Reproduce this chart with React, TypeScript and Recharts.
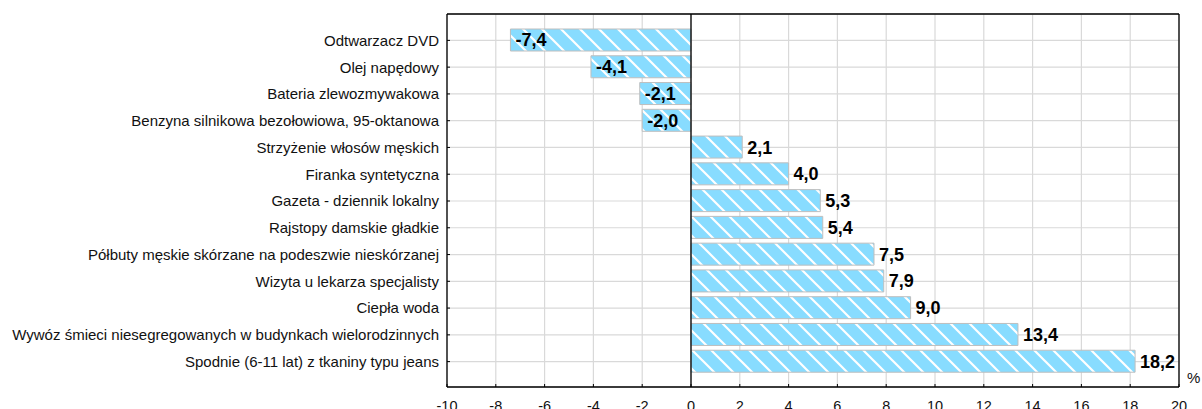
import React from 'react';
import { BarChart, Bar, XAxis, YAxis, CartesianGrid, ReferenceLine, LabelList } from 'recharts';

const categories = [
  'Odtwarzacz DVD',
  'Olej napędowy',
  'Bateria zlewozmywakowa',
  'Benzyna silnikowa bezołowiowa, 95-oktanowa',
  'Strzyżenie włosów męskich',
  'Firanka syntetyczna',
  'Gazeta - dziennik lokalny',
  'Rajstopy damskie gładkie',
  'Półbuty męskie skórzane na podeszwie nieskórzanej',
  'Wizyta u lekarza specjalisty',
  'Ciepła woda',
  'Wywóz śmieci niesegregowanych w budynkach wielorodzinnych',
  'Spodnie (6-11 lat) z tkaniny typu jeans',
];
const values = [-7.4, -4.1, -2.1, -2.0, 2.1, 4.0, 5.3, 5.4, 7.5, 7.9, 9.0, 13.4, 18.2];
const xTicks = [-10, -8, -6, -4, -2, 0, 2, 4, 6, 8, 10, 12, 14, 16, 18, 20];
const unitLabel = '%';

const data = categories.map((name, i) => ({ name, value: values[i] }));

const FONT = '"Liberation Sans", Arial, sans-serif';

const fmt = (v: number) => v.toFixed(1).replace('.', ',');

const ValueLabel = (props: any) => {
  const { x, y, width, height, value } = props;
  const left = Math.min(x, x + width);
  const right = Math.max(x, x + width);
  const neg = value < 0;
  return (
    <text
      x={neg ? left + 5 : right + 5}
      y={y + height / 2}
      dy="0.36em"
      textAnchor="start"
      fontFamily={FONT}
      fontWeight="bold"
      fontSize={18}
      fill="#000"
    >
      {fmt(value)}
    </text>
  );
};

const CatTick = (props: any) => {
  const { x, y, payload } = props;
  return (
    <text x={x} y={y} dy="0.36em" textAnchor="end" fontFamily={FONT} fontSize={15} fill="#111">
      {payload.value}
    </text>
  );
};

const XTick = (props: any) => {
  const { x, y, payload } = props;
  return (
    <text x={x} y={y} dy="0.71em" textAnchor="middle" fontFamily={FONT} fontSize={14.5} fill="#111">
      {payload.value}
    </text>
  );
};

const UnitLabel = (props: any) => {
  const { viewBox } = props;
  return (
    <text x={viewBox.x + viewBox.width + 8} y={viewBox.y - 4} fontFamily={FONT} fontSize={15} fill="#111">
      {unitLabel}
    </text>
  );
};

export default function App() {
  return (
    <div style={{ position: 'absolute', left: 0, top: 0, width: 1202, height: 409, background: '#fff', overflow: 'hidden' }}>
      <BarChart
        width={1202}
        height={409}
        data={data}
        layout="vertical"
        margin={{ top: 0, right: 0, bottom: 0, left: 0 }}
        barSize={22}
      >
        <defs>
          <pattern id="hatch" patternUnits="userSpaceOnUse" width={19} height={19}>
            <rect x={0} y={0} width={19} height={19} fill="#88DCFF" />
            <path d="M-5,-5 L24,24 M-5,14 L5,24 M14,-5 L24,5" stroke="#fff" strokeWidth={2.2} />
          </pattern>
        </defs>
        <CartesianGrid stroke="#D9D9D9" strokeWidth={1.2} />
        <XAxis
          type="number"
          domain={[-10, 20]}
          ticks={xTicks}
          allowDataOverflow
          height={22}
          axisLine={{ stroke: '#000', strokeWidth: 1.3 }}
          tickLine={{ stroke: '#000' }}
          tickSize={-3}
          tickMargin={17}
          tick={<XTick />}
          interval={0}
          label={<UnitLabel />}
        />
        <XAxis
          xAxisId="top"
          orientation="top"
          type="number"
          domain={[-10, 20]}
          ticks={xTicks}
          allowDataOverflow
          height={14}
          axisLine={{ stroke: '#000', strokeWidth: 1.3 }}
          tickLine={{ stroke: '#000' }}
          tickSize={-3}
          tick={false}
          interval={0}
        />
        <YAxis
          type="category"
          dataKey="name"
          width={447}
          padding={{ top: 13, bottom: 12 }}
          axisLine={{ stroke: '#000', strokeWidth: 1.3 }}
          tickLine={{ stroke: '#000' }}
          tickSize={-3}
          tickMargin={11}
          tick={<CatTick />}
          interval={0}
        />
        <YAxis
          yAxisId="right"
          orientation="right"
          type="category"
          dataKey="name"
          width={23}
          padding={{ top: 13, bottom: 12 }}
          axisLine={{ stroke: '#000', strokeWidth: 1.3 }}
          tickLine={{ stroke: '#000' }}
          tickSize={-3}
          tick={false}
          interval={0}
        />
        <ReferenceLine x={0} stroke="#000" strokeWidth={1.3} />
        <Bar dataKey="value" fill="url(#hatch)" stroke="#BEBEBE" strokeWidth={1} isAnimationActive={false}>
          <LabelList dataKey="value" content={<ValueLabel />} />
        </Bar>
      </BarChart>
    </div>
  );
}
